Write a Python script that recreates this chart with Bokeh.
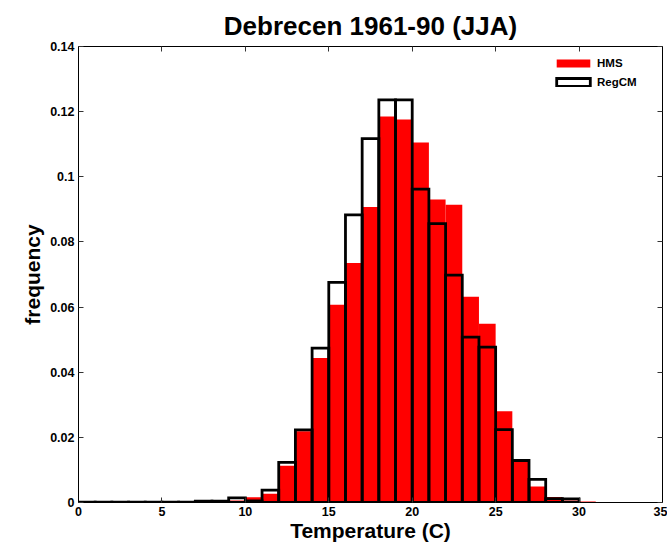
from bokeh.plotting import figure
from bokeh.models import (LinearAxis, FixedTicker, CustomJSTickFormatter, Range1d,
                          ColumnDataSource, Legend, LegendItem)
from bokeh.embed import file_html
from bokeh.resources import INLINE

# ---- data (bin left edges, width 1) ----
hms_left = list(range(0, 31))
hms_freq = [0.0001, 0.0001, 0.0001, 0.0001, 0.0001, 0.0001, 0.0001, 0.0003, 0.0004, 0.0006,
            0.0016, 0.0027, 0.0113, 0.0219, 0.0444, 0.0607, 0.0735, 0.0907, 0.1185, 0.1176,
            0.1105, 0.0930, 0.0914, 0.0632, 0.0549, 0.0280, 0.0127, 0.0049, 0.0017, 0.0006,
            0.0003]
regcm_left = list(range(0, 30))
regcm_freq = [0.0001, 0.0001, 0.0001, 0.0001, 0.0001, 0.0001, 0.0001, 0.0004, 0.0004, 0.0014,
              0.0005, 0.0038, 0.0123, 0.0223, 0.0474, 0.0676, 0.0883, 0.1117, 0.1236, 0.1236,
              0.0962, 0.0856, 0.0698, 0.0508, 0.0477, 0.0224, 0.0129, 0.0071, 0.0012, 0.0011]
x_ticks = [0, 5, 10, 15, 20, 25, 30, 35]
y_ticks = [0, 0.02, 0.04, 0.06, 0.08, 0.1, 0.12, 0.14]

title_text = "Debrecen 1961-90 (JJA)"
x_label = "Temperature (C)"
y_label = "frequency"

FONT = "Liberation Sans"

p = figure(width=667, height=548, output_backend="svg", toolbar_location=None,
           x_range=Range1d(0, 35), y_range=Range1d(0, 0.14),
           min_border_left=78, min_border_right=5, min_border_top=46, min_border_bottom=46,
           title=title_text)
p.title.align = "center"
p.title.text_font = FONT
p.title.text_font_style = "bold"
p.title.text_font_size = "26px"
p.title.text_color = "black"
p.title.standoff = 12

p.grid.visible = False
p.outline_line_color = None
p.background_fill_color = "white"
p.border_fill_color = "white"

hms_src = ColumnDataSource(dict(left=hms_left, right=[v + 1 for v in hms_left],
                                top=hms_freq, bottom=[0] * len(hms_left)))
reg_src = ColumnDataSource(dict(left=regcm_left, right=[v + 1 for v in regcm_left],
                                top=regcm_freq, bottom=[0] * len(regcm_left)))

r_hms = p.quad(left="left", right="right", top="top", bottom="bottom", source=hms_src,
               fill_color="#ff0000", line_color=None)
r_reg = p.quad(left="left", right="right", top="top", bottom="bottom", source=reg_src,
               fill_color=None, line_color="black", line_width=2.8, line_join="miter")

fmt = CustomJSTickFormatter(code="""
let s = tick.toFixed(2);
s = s.replace(/0+$/, '').replace(/\\.$/, '');
return s;
""")
blank_fmt = CustomJSTickFormatter(code="return '';")

def style_axis(ax, labels=True):
    ax.axis_line_color = "black"
    ax.axis_line_width = 1
    ax.major_tick_in = 5
    ax.major_tick_out = 0
    ax.major_tick_line_color = "#333333"
    ax.minor_tick_line_color = None
    if labels:
        ax.major_label_text_font = FONT
        ax.major_label_text_font_style = "bold"
        ax.major_label_text_font_size = "12.5px"
        ax.major_label_text_color = "black"
    else:
        ax.formatter = blank_fmt
        ax.major_label_standoff = 0

xa = p.xaxis[0]
xa.ticker = FixedTicker(ticks=x_ticks)
style_axis(xa)
xa.major_label_standoff = 4
xa.axis_label = x_label
xa.axis_label_text_font = FONT
xa.axis_label_text_font_style = "bold"
xa.axis_label_text_font_size = "21px"
xa.axis_label_text_color = "black"
xa.axis_label_standoff = 0

ya = p.yaxis[0]
ya.ticker = FixedTicker(ticks=y_ticks)
ya.formatter = fmt
style_axis(ya)
ya.major_label_standoff = 4
ya.axis_label = y_label
ya.axis_label_text_font = FONT
ya.axis_label_text_font_style = "bold"
ya.axis_label_text_font_size = "21px"
ya.axis_label_text_color = "black"
ya.axis_label_standoff = 3

top_ax = LinearAxis(ticker=FixedTicker(ticks=x_ticks))
style_axis(top_ax, labels=False)
p.add_layout(top_ax, "above")
right_ax = LinearAxis(ticker=FixedTicker(ticks=y_ticks))
style_axis(right_ax, labels=False)
p.add_layout(right_ax, "right")

legend = Legend(items=[LegendItem(label="HMS", renderers=[r_hms]),
                       LegendItem(label="RegCM", renderers=[r_reg])],
                location=(474, 414))
legend.padding = 0
legend.margin = 0
legend.spacing = 7
legend.glyph_width = 42
legend.glyph_height = 10
legend.label_height = 10
legend.label_standoff = 3
legend.label_text_font = FONT
legend.label_text_font_style = "bold"
legend.label_text_font_size = "11.5px"
legend.label_text_color = "black"
legend.border_line_color = None
legend.background_fill_alpha = 0
p.add_layout(legend, "center")

open("out.html", "w").write(file_html(p, INLINE))
